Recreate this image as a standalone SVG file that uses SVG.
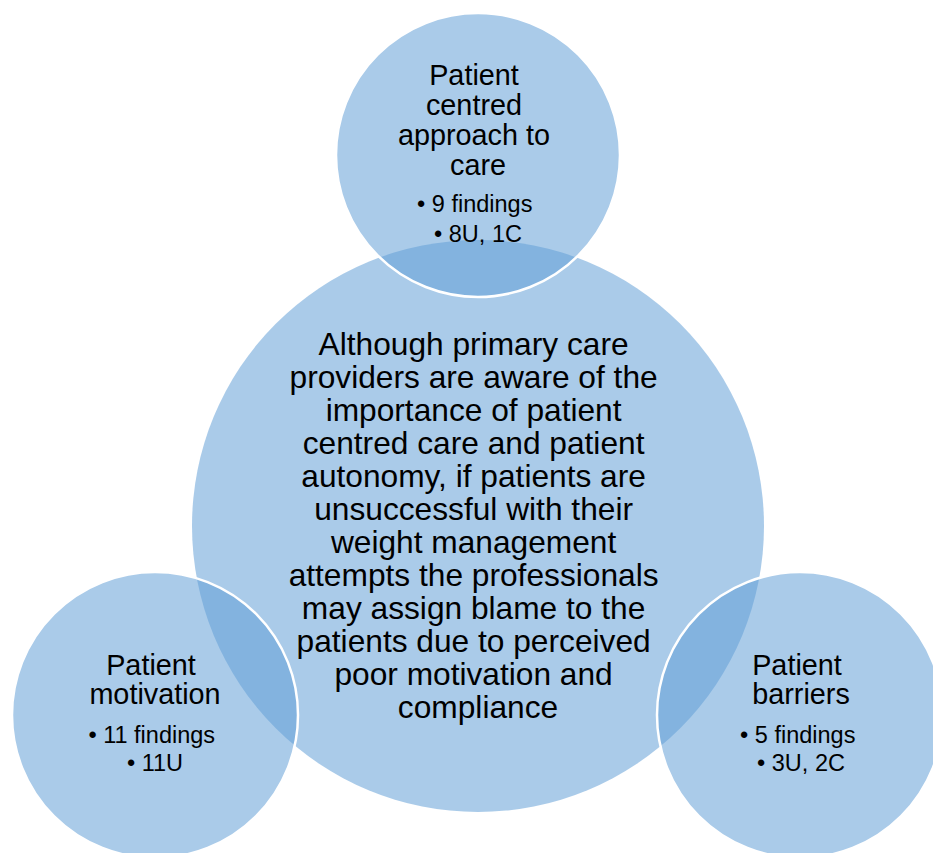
<svg xmlns="http://www.w3.org/2000/svg" width="933" height="853" viewBox="0 0 933 853">
  <style>
    .bubble { fill: rgb(98,158,214); fill-opacity: 0.54; }
    .sat { stroke: #ffffff; stroke-width: 2.5; }
    text { font-family: "Liberation Sans", Arial, sans-serif; fill: #000000; text-anchor: middle; }
    .main { font-size: 31.7px; }
    .title { font-size: 28.8px; }
    .item { font-size: 23.5px; }
  </style>
  <rect width="933" height="853" fill="#ffffff"/>

  <!-- central statement -->
  <g id="core">
    <circle class="bubble" cx="478" cy="526" r="286"/>
    <text class="main">
      <tspan x="478" y="355">Although primary care</tspan>
      <tspan x="478" y="388">providers are aware of the</tspan>
      <tspan x="478" y="421">importance of patient</tspan>
      <tspan x="478" y="454">centred care and patient</tspan>
      <tspan x="478" y="487">autonomy, if patients are</tspan>
      <tspan x="478" y="520">unsuccessful with their</tspan>
      <tspan x="478" y="553">weight management</tspan>
      <tspan x="478" y="586">attempts the professionals</tspan>
      <tspan x="478" y="619">may assign blame to the</tspan>
      <tspan x="478" y="652">patients due to perceived</tspan>
      <tspan x="478" y="685">poor motivation and</tspan>
      <tspan x="478" y="718">compliance</tspan>
    </text>
  </g>

  <!-- theme: patient centred approach -->
  <g id="theme-approach">
    <circle class="bubble sat" cx="478" cy="155" r="142"/>
    <text class="title">
      <tspan x="478" y="85">Patient</tspan>
      <tspan x="478" y="115">centred</tspan>
      <tspan x="478" y="145">approach to</tspan>
      <tspan x="478" y="175">care</tspan>
    </text>
    <text class="item">
      <tspan x="478" y="212">• 9 findings</tspan>
      <tspan x="478" y="242">• 8U, 1C</tspan>
    </text>
  </g>

  <!-- theme: patient motivation -->
  <g id="theme-motivation">
    <circle class="bubble sat" cx="155" cy="715" r="143"/>
    <text class="title">
      <tspan x="155" y="675">Patient</tspan>
      <tspan x="155" y="704">motivation</tspan>
    </text>
    <text class="item">
      <tspan x="155" y="743">• 11 findings</tspan>
      <tspan x="155" y="771">• 11U</tspan>
    </text>
  </g>

  <!-- theme: patient barriers -->
  <g id="theme-barriers">
    <circle class="bubble sat" cx="800" cy="715" r="143"/>
    <text class="title">
      <tspan x="801" y="675">Patient</tspan>
      <tspan x="801" y="704">barriers</tspan>
    </text>
    <text class="item">
      <tspan x="801" y="743">• 5 findings</tspan>
      <tspan x="801" y="771">• 3U, 2C</tspan>
    </text>
  </g>

  <g id="connectors"/>
</svg>
